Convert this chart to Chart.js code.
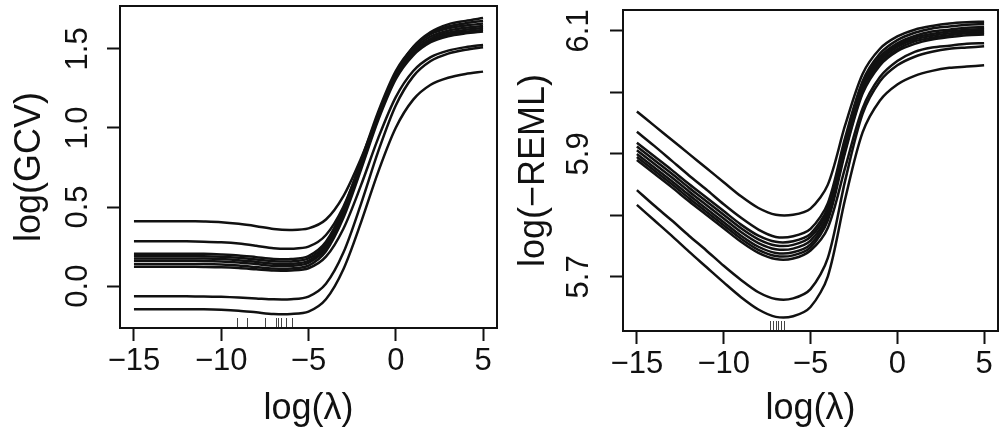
<!DOCTYPE html>
<html>
<head>
<meta charset="utf-8">
<script src="https://cdn.jsdelivr.net/npm/chart.js@4.4.1/dist/chart.umd.min.js"></script>
<style>
  html, body { margin: 0; padding: 0; background: #fff; }
  #wrap { position: relative; width: 1006px; height: 434px; }
  #gcv { position: absolute; left: 0; top: 0; }
  #reml { position: absolute; left: 500px; top: 0; }
</style>
</head>
<body>
<div id="wrap">
  <canvas id="gcv" width="500" height="434"></canvas>
  <canvas id="reml" width="506" height="434"></canvas>
</div>
<script>
// grid of log(lambda) values the curves were read at
const logLambda = [-15, -14, -13, -12, -11, -10, -9, -8, -7, -6, -5, -4, -3, -2, -1, 0, 1, 2, 3, 4, 5];

// log(GCV) curves
const gcvA  = [0.410, 0.410, 0.410, 0.410, 0.408, 0.404, 0.394, 0.379, 0.361, 0.355, 0.365, 0.421, 0.569, 0.805, 1.082, 1.338, 1.513, 1.607, 1.655, 1.677, 1.695];
const gcvB  = [0.283, 0.283, 0.283, 0.283, 0.281, 0.277, 0.269, 0.255, 0.239, 0.236, 0.249, 0.323, 0.502, 0.777, 1.082, 1.343, 1.510, 1.599, 1.641, 1.662, 1.677];
const gcvC1 = [0.205, 0.205, 0.205, 0.205, 0.204, 0.200, 0.194, 0.183, 0.172, 0.171, 0.190, 0.280, 0.490, 0.790, 1.105, 1.360, 1.510, 1.593, 1.630, 1.648, 1.660];
const gcvC2 = [0.190, 0.190, 0.190, 0.190, 0.189, 0.186, 0.179, 0.168, 0.157, 0.156, 0.175, 0.265, 0.475, 0.775, 1.090, 1.345, 1.495, 1.578, 1.615, 1.633, 1.645];
const gcvC3 = [0.175, 0.175, 0.175, 0.175, 0.174, 0.171, 0.164, 0.153, 0.142, 0.141, 0.160, 0.250, 0.460, 0.761, 1.076, 1.332, 1.482, 1.564, 1.602, 1.620, 1.632];
const gcvC4 = [0.160, 0.160, 0.160, 0.160, 0.159, 0.156, 0.149, 0.139, 0.129, 0.128, 0.147, 0.237, 0.448, 0.748, 1.064, 1.319, 1.470, 1.552, 1.590, 1.608, 1.620];
const gcvC5 = [0.140, 0.140, 0.140, 0.140, 0.139, 0.136, 0.130, 0.120, 0.111, 0.111, 0.130, 0.221, 0.432, 0.734, 1.051, 1.308, 1.459, 1.542, 1.580, 1.598, 1.610];
const gcvC6 = [0.122, 0.122, 0.122, 0.122, 0.121, 0.119, 0.114, 0.106, 0.098, 0.099, 0.113, 0.186, 0.363, 0.635, 0.937, 1.195, 1.360, 1.448, 1.489, 1.511, 1.525];
const gcvD  = [-0.065, -0.065, -0.065, -0.065, -0.066, -0.068, -0.072, -0.078, -0.084, -0.083, -0.066, 0.015, 0.212, 0.517, 0.853, 1.142, 1.326, 1.423, 1.470, 1.494, 1.510];
const gcvE  = [-0.146, -0.146, -0.146, -0.146, -0.147, -0.150, -0.156, -0.166, -0.176, -0.176, -0.161, -0.083, 0.107, 0.400, 0.724, 1.001, 1.179, 1.273, 1.317, 1.341, 1.356];

// log(-REML) curves
const remlA  = [5.969, 5.946, 5.923, 5.900, 5.877, 5.854, 5.831, 5.812, 5.801, 5.801, 5.811, 5.850, 5.947, 6.030, 6.071, 6.091, 6.102, 6.108, 6.112, 6.114, 6.115];
const remlB  = [5.936, 5.913, 5.889, 5.865, 5.842, 5.818, 5.796, 5.777, 5.765, 5.766, 5.778, 5.820, 5.927, 6.018, 6.063, 6.085, 6.097, 6.104, 6.107, 6.110, 6.111];
const remlC1 = [5.918, 5.896, 5.874, 5.851, 5.829, 5.807, 5.785, 5.767, 5.757, 5.758, 5.770, 5.813, 5.920, 6.013, 6.058, 6.080, 6.092, 6.099, 6.102, 6.105, 6.106];
const remlC2 = [5.912, 5.890, 5.868, 5.845, 5.823, 5.801, 5.779, 5.761, 5.751, 5.752, 5.765, 5.808, 5.916, 6.009, 6.054, 6.077, 6.089, 6.095, 6.099, 6.102, 6.103];
const remlC3 = [5.906, 5.884, 5.862, 5.839, 5.817, 5.795, 5.773, 5.755, 5.745, 5.746, 5.759, 5.802, 5.911, 6.005, 6.051, 6.074, 6.086, 6.092, 6.096, 6.099, 6.100];
const remlC4 = [5.900, 5.878, 5.856, 5.833, 5.811, 5.789, 5.767, 5.749, 5.739, 5.740, 5.753, 5.797, 5.907, 6.001, 6.047, 6.070, 6.083, 6.089, 6.093, 6.096, 6.097];
const remlC5 = [5.895, 5.873, 5.851, 5.828, 5.806, 5.784, 5.762, 5.744, 5.734, 5.735, 5.748, 5.792, 5.903, 5.998, 6.044, 6.067, 6.079, 6.086, 6.090, 6.093, 6.094];
const remlC6 = [5.890, 5.868, 5.846, 5.823, 5.801, 5.779, 5.757, 5.739, 5.729, 5.730, 5.743, 5.780, 5.878, 5.974, 6.025, 6.051, 6.066, 6.073, 6.076, 6.079, 6.080];
const remlD  = [5.841, 5.816, 5.792, 5.767, 5.743, 5.718, 5.695, 5.675, 5.664, 5.665, 5.680, 5.731, 5.857, 5.965, 6.018, 6.044, 6.058, 6.066, 6.071, 6.073, 6.075];
const remlE  = [5.817, 5.792, 5.767, 5.741, 5.716, 5.691, 5.667, 5.647, 5.635, 5.636, 5.651, 5.701, 5.827, 5.935, 5.987, 6.013, 6.027, 6.035, 6.040, 6.042, 6.044];

// rug of the selected log(lambda) per curve
const gcvRug  = [-9.12, -8.52, -7.50, -6.87, -6.72, -6.59, -6.30, -5.92];
const remlRug = [-7.33, -7.18, -7.01, -6.86, -6.70, -6.53];

// axis ticks
const xTicks = [-15, -10, -5, 0, 5];
const gcvTicks = [0, 0.5, 1.0, 1.5];
const gcvTickLabels = ['0.0', '0.5', '1.0', '1.5'];
const remlTicks = [5.7, 5.8, 5.9, 6.0, 6.1];
const remlTickLabels = ['5.7', '', '5.9', '', '6.1'];

const FONT = '"Liberation Sans", Arial, Helvetica, sans-serif';
const INK = '#111';

// box, rug and rotated y tick labels (R-style)
const rFrame = {
  id: 'rFrame',
  afterDatasetsDraw(chart, args, opts) {
    const { ctx, chartArea: a, scales: { x, y } } = chart;
    ctx.save();
    ctx.strokeStyle = INK;
    ctx.lineWidth = 2;
    ctx.strokeRect(a.left, a.top, a.right - a.left, a.bottom - a.top);

    ctx.lineWidth = 1;
    ctx.strokeStyle = '#444';
    opts.rug.forEach(v => {
      const px = Math.round(x.getPixelForValue(v)) + 0.5;
      ctx.beginPath();
      ctx.moveTo(px, a.bottom - 1);
      ctx.lineTo(px, a.bottom - 10);
      ctx.stroke();
    });

    ctx.fillStyle = INK;
    ctx.font = '31px ' + FONT;
    ctx.textAlign = 'center';
    ctx.textBaseline = 'middle';
    opts.ticks.forEach((v, i) => {
      const text = opts.labels[i];
      if (!text) return;
      ctx.save();
      ctx.translate(opts.labelX, y.getPixelForValue(v));
      ctx.rotate(-Math.PI / 2);
      ctx.fillText(text, 0, 0);
      ctx.restore();
    });
    ctx.restore();
  }
};

function makeChart(id, series, cfg) {
  const tickGrid = { drawOnChartArea: false, drawTicks: true, tickLength: 13, tickWidth: 2, tickColor: INK };
  return new Chart(document.getElementById(id), {
    type: 'line',
    data: {
      datasets: series.map(s => ({
        data: logLambda.map((v, i) => ({ x: v, y: s[i] })),
        borderColor: INK,
        borderWidth: 2.5,
        pointRadius: 0,
        tension: 0.3,
        fill: false
      }))
    },
    options: {
      responsive: false,
      animation: false,
      events: [],
      layout: { padding: { top: cfg.top, right: cfg.right, left: 0, bottom: 0 } },
      plugins: {
        legend: { display: false },
        tooltip: { enabled: false },
        rFrame: { rug: cfg.rug, ticks: cfg.yTicks, labels: cfg.yLabels, labelX: cfg.labelX }
      },
      scales: {
        x: {
          type: 'linear',
          min: -15.8,
          max: 5.8,
          afterBuildTicks: s => { s.ticks = xTicks.map(v => ({ value: v })); },
          afterFit: s => { s.height = cfg.xAxisH; },
          grid: tickGrid,
          border: { display: false },
          ticks: {
            padding: 2,
            color: INK,
            font: { family: FONT, size: 31 },
            callback: v => String(v).replace('-', '\u2212')
          },
          title: {
            display: true,
            text: 'log(\u03bb)',
            color: INK,
            font: { family: FONT, size: 36 },
            padding: { top: 0, bottom: 3 }
          }
        },
        y: {
          type: 'linear',
          min: cfg.yMin,
          max: cfg.yMax,
          afterBuildTicks: s => { s.ticks = cfg.yTicks.map(v => ({ value: v })); },
          afterFit: s => { s.width = cfg.yAxisW; },
          grid: tickGrid,
          border: { display: false },
          ticks: { display: false },
          title: {
            display: true,
            text: cfg.yTitle,
            color: INK,
            font: { family: FONT, size: 36 },
            padding: { top: cfg.titlePad, bottom: 0 }
          }
        }
      }
    },
    plugins: [rFrame]
  });
}

makeChart('gcv',
  [gcvA, gcvB, gcvC1, gcvC2, gcvC3, gcvC4, gcvC5, gcvC6, gcvD, gcvE],
  { top: 6, right: 3, xAxisH: 106, yAxisW: 120, yMin: -0.265, yMax: 1.771,
    yTicks: gcvTicks, yLabels: gcvTickLabels, labelX: 78, yTitle: 'log(GCV)', titlePad: 8, rug: gcvRug });

makeChart('reml',
  [remlA, remlB, remlC1, remlC2, remlC3, remlC4, remlC5, remlC6, remlD, remlE],
  { top: 10, right: 8, xAxisH: 103, yAxisW: 123, yMin: 5.612, yMax: 6.134,
    yTicks: remlTicks, yLabels: remlTickLabels, labelX: 79, yTitle: 'log(\u2212REML)', titlePad: 12, rug: remlRug });
</script>
</body>
</html>
